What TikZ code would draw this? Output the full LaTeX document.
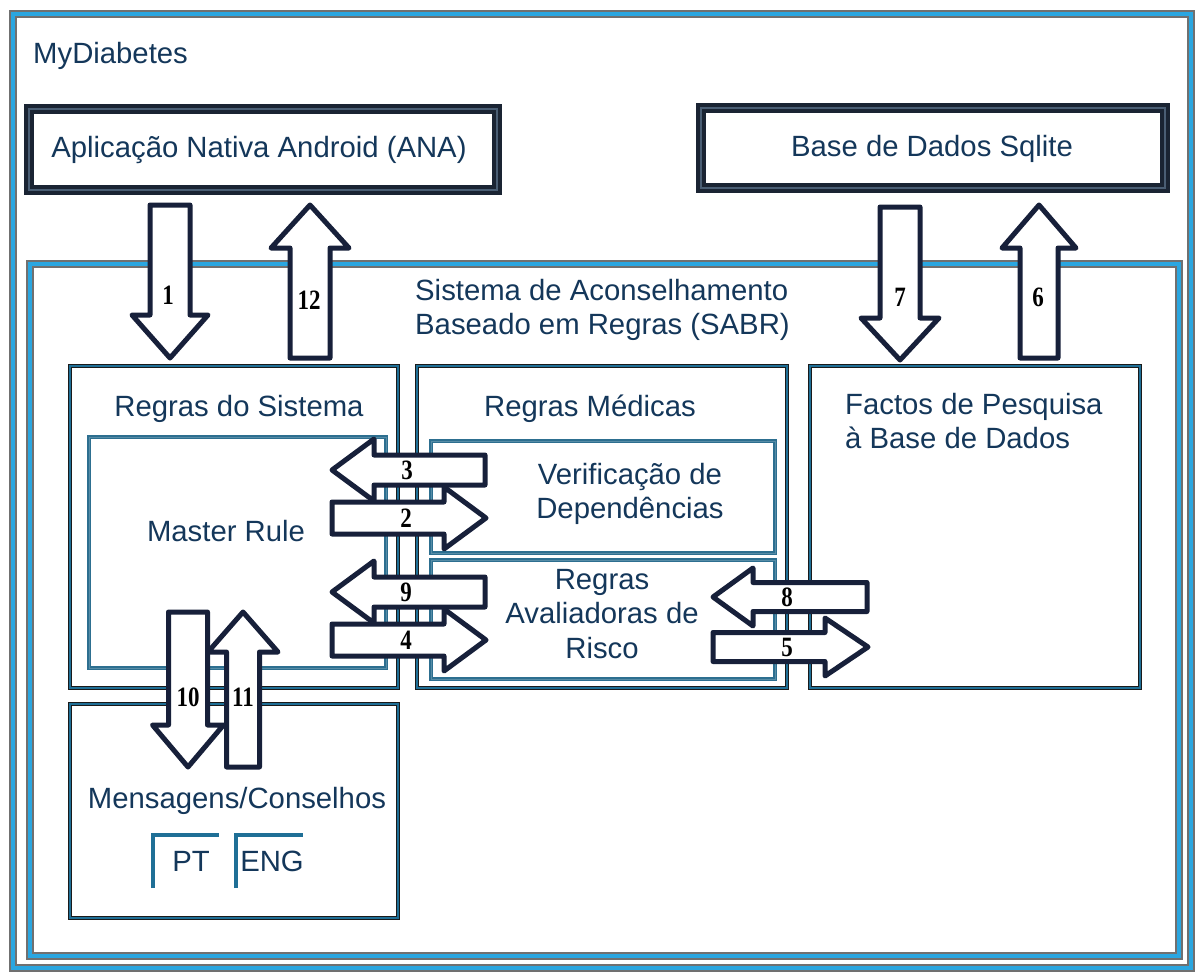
\documentclass[tikz,border=0pt]{standalone}
\usepackage{fontspec}
\setmainfont{Liberation Sans}
\newfontfamily\numfont[FakeStretch=0.82]{Liberation Serif}
\definecolor{txtc}{HTML}{14375A}
\definecolor{arrc}{HTML}{17203A}
\definecolor{frameblue}{HTML}{2AA6E0}
\definecolor{framegray}{HTML}{707070}
\definecolor{tealc}{HTML}{1F6F96}
\definecolor{tealin}{HTML}{2D6F90}
\definecolor{boxdark}{HTML}{1A1A1A}
\definecolor{topdark}{HTML}{1A2433}
\definecolor{topmid}{HTML}{4A5E74}
\newcommand\myarH[6]{% tail x, head base x, tip x, cy, shaft half, head half
  \draw[blockar] (#1,#4-#5) -- (#2,#4-#5) -- (#2,#4-#6) -- (#3,#4) -- (#2,#4+#6) -- (#2,#4+#5) -- (#1,#4+#5) -- cycle;}
\newcommand\myarV[6]{% cx, tail y, head base y, tip y, shaft half, head half
  \draw[blockar] (#1-#5,#2) -- (#1-#5,#3) -- (#1-#6,#3) -- (#1,#4) -- (#1+#6,#3) -- (#1+#5,#3) -- (#1+#5,#2) -- cycle;}
\begin{document}
\begin{tikzpicture}[x=1pt,y=-1pt,
  lbl/.style={font=\fontsize{29.3}{34.5}\selectfont, text=txtc, inner sep=0pt},
  num/.style={font=\numfont\bfseries\fontsize{28}{28}\selectfont, text=black, inner sep=0pt},
  blockar/.style={draw=arrc, line width=5pt, fill=white, line join=round},
  framegrayline/.style={draw=framegray, line width=8pt},
  frameblueline/.style={draw=frameblue, line width=4.8pt},
  boxouter/.style={draw=boxdark, line width=4.5pt},
  boxinner/.style={draw=tealc, line width=2pt},
  tealbox/.style={draw=tealin, line width=3.5pt},
  tealhl/.style={draw=tealin!80!white, line width=1pt},
  topouter/.style={draw=topdark, line width=9.5pt},
  topinner/.style={draw=topmid, line width=2.5pt},
  bracket/.style={draw=tealc, line width=4pt}
]
\fill[white] (0,0) rectangle (1196,974);
\useasboundingbox (0,0) rectangle (1196,974);
% outer frame
\draw[framegrayline] (13,14) rectangle (1191,968);
\draw[frameblueline] (13,14) rectangle (1191,968);
% SABR frame
\draw[framegrayline] (30,264) rectangle (1179,956);
\draw[frameblueline] (30,264) rectangle (1179,956);
% top boxes
\draw[topouter] (29,109) rectangle (497,190);
\draw[topinner] (29,109) rectangle (497,190);
\draw[topouter] (701,108) rectangle (1165,188);
\draw[topinner] (701,108) rectangle (1165,188);
% main boxes
\foreach \a/\b/\c/\d in {70/366/398/688, 417/366/787/688, 810/366/1140/688, 70/704/398/918}{
  \draw[boxouter] (\a,\b) rectangle (\c,\d);
  \draw[boxinner] (\a,\b) rectangle (\c,\d);
}
% inner teal boxes
\foreach \a/\b/\c/\d in {89/437/386/668, 431/441/775/553, 431/560/775/679}{
  \draw[tealbox] (\a,\b) rectangle (\c,\d);
  \draw[tealhl] (\a,\b) rectangle (\c,\d);
}
% PT / ENG brackets
\draw[bracket] (153,888) -- (153,835) -- (219,835);
\draw[bracket] (236,888) -- (236,835) -- (303,835);
% texts
\node[lbl, anchor=west] (mydiab) at (33,56) {MyDiabetes};
\node[lbl] (ana) at (259,150) {Aplicação Nativa Android (ANA)};
\node[lbl] (sqlite) at (932,149) {Base de Dados Sqlite};
\node[lbl, anchor=north west, align=left] (sabr) at (415,279) {Sistema de Aconselhamento\\Baseado em Regras (SABR)};
\node[lbl] (rsist) at (239,409) {Regras do Sistema};
\node[lbl] (rmed) at (590,409) {Regras Médicas};
\node[lbl, anchor=north west, align=left] (factos) at (845,393) {Factos de Pesquisa\\à Base de Dados};
\node[lbl] (master) at (226,531) {Master Rule};
\node[lbl, align=center] (verif) at (630,494) {Verificação de\\Dependências};
\node[lbl, align=center] (aval) at (602,614) {Regras\\Avaliadoras de\\Risco};
\node[lbl] (mens) at (237,801) {Mensagens/Conselhos};
\node[lbl] (pt) at (191,861) {PT};
\node[lbl] (eng) at (272,861) {ENG};
% block arrows
\myarV{170}{205}{315}{358}{20}{38}
\myarV{310}{358}{248}{205}{20}{39}
\myarV{900}{207}{318}{360}{20}{39}
\myarV{1039}{358}{248}{205}{19}{37}
\myarH{485}{374}{332}{470}{15}{31}
\myarH{332}{444}{486}{518}{16}{31}
\myarH{485}{374}{332}{592}{15}{31}
\myarH{332}{444}{486}{640}{16}{31}
\myarH{867}{753}{713}{597}{14.5}{29}
\myarH{713}{825}{868}{647}{14.5}{29}
\myarV{188}{612}{725}{767}{19.5}{35.5}
\myarV{243}{767}{652}{612}{16.5}{35}
% numbers
\node[num] (n1) at (168,295) {1};
\node[num] (n12) at (309,300) {12};
\node[num] (n7) at (900,297) {7};
\node[num] (n6) at (1038,297) {6};
\node[num] (n3) at (407,470) {3};
\node[num] (n2) at (406,518) {2};
\node[num] (n9) at (406,592) {9};
\node[num] (n4) at (406,640) {4};
\node[num] (n8) at (787,597) {8};
\node[num] (n5) at (787,647) {5};
\node[num] (n10) at (188,697) {10};
\node[num] (n11) at (243,697) {11};
\end{tikzpicture}
\end{document}
